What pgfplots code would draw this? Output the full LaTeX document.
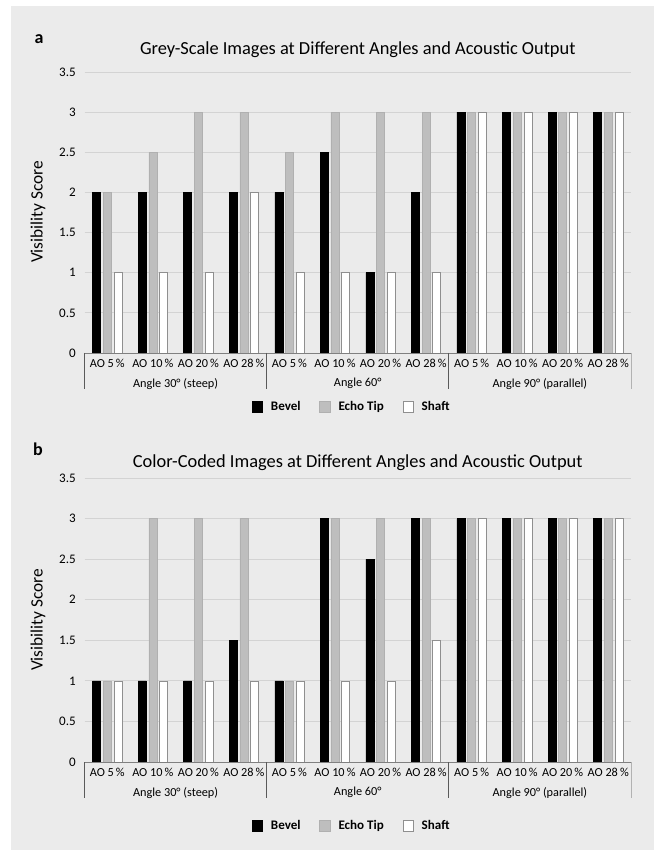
\documentclass[border=0pt]{standalone}
\usepackage{fontspec}
\setmainfont{Carlito}
\usepackage{pgfplots}
\usepackage{pgfplotstable}
\pgfplotsset{compat=1.18}
\definecolor{panel}{HTML}{EBEBEB}
\definecolor{gridc}{HTML}{D3D3D3}
\definecolor{echo}{HTML}{BEBEBE}
\definecolor{echoedge}{HTML}{B0B0B0}
\definecolor{shaftedge}{HTML}{8F8F8F}
\definecolor{sepc}{HTML}{5A5A5A}

\pgfplotstableread{
x bevel echo shaft
0 2 2 1
1 2 2.5 1
2 2 3 1
3 2 3 2
4 2 2.5 1
5 2.5 3 1
6 1 3 1
7 2 3 1
8 3 3 3
9 3 3 3
10 3 3 3
11 3 3 3
}\dataA

\pgfplotstableread{
x bevel echo shaft
0 1 1 1
1 1 3 1
2 1 3 1
3 1.5 3 1
4 1 1 1
5 3 3 1
6 2.5 3 1
7 3 3 1.5
8 3 3 3
9 3 3 3
10 3 3 3
11 3 3 3
}\dataB

\pgfplotsset{
 vischart/.style={
  scale only axis, width=409.875pt,
  ybar=2pt, bar width=6pt,
  xmin=-0.5, xmax=11.5, ymin=0, ymax=3.5,
  ytick={0,0.5,1,1.5,2,2.5,3,3.5},
  xtick={0,...,11},
  xticklabels={AO 5\,\%, AO 10\,\%, AO 20\,\%, AO 28\,\%, AO 5\,\%, AO 10\,\%, AO 20\,\%, AO 28\,\%, AO 5\,\%, AO 10\,\%, AO 20\,\%, AO 28\,\%},
  major tick length=0pt,
  axis line style={draw=none},
  ymajorgrids, grid style={gridc, line width=0.6pt},
  clip=false,
  /pgf/number format/assume math mode=true,
  yticklabel style={font=\fontsize{9.8}{11}\selectfont, xshift=-3pt},
  xticklabel style={font=\fontsize{9.2}{10}\selectfont, yshift=-1pt},
  legend columns=3,
  legend style={draw=none, fill=none, font=\bfseries\fontsize{9.8}{11}\selectfont,
    at={(0.4895,#1)}, anchor=center,
    /tikz/every odd column/.append style={column sep=4pt},
    /tikz/every even column/.append style={column sep=12pt}},
  legend image code/.code={\draw[##1] (0pt,-4pt) rectangle (8pt,4pt);},
 }
}

\newcommand{\groupdeco}{%
  \draw[gray, line width=0.6pt] (axis cs:-0.5,0) -- (axis cs:11.5,0);
  \draw[sepc, line width=0.7pt] (axis cs:-0.5,0) -- ++(0pt,-27pt);
  \draw[sepc, line width=0.7pt] (axis cs:3.5,0) -- ++(0pt,-27pt);
  \draw[sepc, line width=0.7pt] (axis cs:7.5,0) -- ++(0pt,-27pt);
  \draw[gray!60, line width=0.6pt] (axis cs:11.5,0) -- ++(0pt,-27pt);
  \node[font=\fontsize{9.2}{10}\selectfont, yshift=-23pt] at (axis cs:1.5,0) {Angle 30° (steep)};
  \node[font=\fontsize{9.2}{10}\selectfont, yshift=-23pt] at (axis cs:5.5,0) {Angle 60°};
  \node[font=\fontsize{9.2}{10}\selectfont, yshift=-23pt] at (axis cs:9.5,0) {Angle 90° (parallel)};
}

\begin{document}
\begin{tikzpicture}
\fill[white] (0,0) rectangle (490.5pt,640.5pt);
\fill[panel] (8.25pt,3pt) rectangle (490.5pt,636pt);

\begin{axis}[vischart=-0.192, height=210.75pt, at={(63.375pt,375.75pt)}, anchor=south west]
\addplot[fill=black, draw=black] table[x=x,y=bevel]{\dataA};
\addplot[fill=echo, draw=echoedge] table[x=x,y=echo]{\dataA};
\addplot[fill=white, draw=shaftedge] table[x=x,y=shaft]{\dataA};
\legend{Bevel, Echo Tip, Shaft}
\groupdeco
\end{axis}

\begin{axis}[vischart=-0.225, height=213pt, at={(63.375pt,69pt)}, anchor=south west]
\addplot[fill=black, draw=black] table[x=x,y=bevel]{\dataB};
\addplot[fill=echo, draw=echoedge] table[x=x,y=echo]{\dataB};
\addplot[fill=white, draw=shaftedge] table[x=x,y=shaft]{\dataB};
\legend{Bevel, Echo Tip, Shaft}
\groupdeco
\end{axis}

\node[font=\bfseries\fontsize{13.5}{15}\selectfont] at (29.25pt,611.25pt) {a};
\node[font=\fontsize{13.8}{16}\selectfont] at (268.3pt,603pt) {Grey-Scale Images at Different Angles and Acoustic Output};
\node[font=\fontsize{13}{15}\selectfont, rotate=90] at (28.5pt,481.5pt) {Visibility Score};

\node[font=\bfseries\fontsize{13.5}{15}\selectfont] at (28.5pt,303.75pt) {b};
\node[font=\fontsize{13.8}{16}\selectfont] at (268.3pt,293.25pt) {Color-Coded Images at Different Angles and Acoustic Output};
\node[font=\fontsize{13}{15}\selectfont, rotate=90] at (28.5pt,175.5pt) {Visibility Score};

\pgfresetboundingbox
\path (0,0) rectangle (490.5pt,640.5pt);
\end{tikzpicture}
\end{document}
